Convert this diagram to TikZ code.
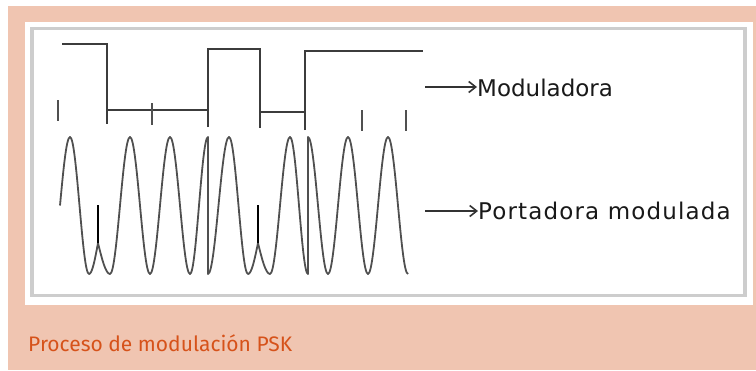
\documentclass[tikz,border=0pt]{standalone}
\usepackage{fontspec}
\usetikzlibrary{arrows.meta}
\newfontfamily\labelfont{DejaVu Sans}
\newfontfamily\capfont{Fira Sans}
\definecolor{salmon}{RGB}{240,197,177}
\definecolor{capcol}{RGB}{214,82,26}
\definecolor{wavecol}{RGB}{80,80,80}
\definecolor{sqcol}{RGB}{60,60,60}
\definecolor{framecol}{RGB}{205,205,205}
\tikzset{
  wave/.style={draw=wavecol, line width=1.8pt, line join=round},
  sqwave/.style={draw=sqcol, line width=2.2pt, line join=miter},
  tickline/.style={draw=wavecol, line width=2pt},
  blackmark/.style={draw=black, line width=2.2pt},
  lbl/.style={font=\labelfont\fontsize{23}{26}\selectfont, text=black!90, inner sep=0pt, anchor=base west},
  pointer/.style={draw=black!80, line width=1.6pt, -{Straight Barb[length=7pt,width=11pt,line width=1.6pt]}}
}
\begin{document}
\begin{tikzpicture}[x=1pt,y=-1pt]
\useasboundingbox (0,0) rectangle (756,370);
\fill[white] (0,0) rectangle (756,370);
\fill[salmon] (8,6) rectangle (756,370);
\fill[white] (25,22) rectangle (753,305);
\draw[framecol, line width=3.5pt] (32,28.5) rectangle (745,295.5);
% modulating square wave
\draw[sqwave] (62,44) -- (107,44) -- (107,124);
\draw[sqwave] (107,110) -- (208,110);
\draw[sqwave] (208,127) -- (208,49) -- (260,49) -- (260,128);
\draw[sqwave] (260,112) -- (305,112);
\draw[sqwave] (305,130) -- (305,51) -- (423,51);
% ticks
\draw[tickline] (58,100) -- (58,121);
\draw[tickline] (152,103) -- (152,125);
\draw[tickline] (362,110) -- (362,131);
\draw[tickline] (406,110) -- (406,131);
% modulated carrier
\draw[wave] (60,205.5) sin (70,137) cos (79.5,205.5) sin (89,274) cos (98,243)
  sin (110,274) cos (120,205.5) sin (130,137) cos (140,205.5) sin (150,274)
  cos (160,205.5) sin (170,137) cos (180,205.5) sin (190,274) cos (199,205.5) sin (208,137)
  -- (208,274) cos (218.5,205.5) sin (229,137) cos (238.5,205.5) sin (248,274) cos (258,243)
  sin (270,274) cos (280,205.5) sin (290,137) cos (299,205.5) sin (308,274)
  -- (308,137) cos (318,205.5) sin (328,274) cos (338,205.5) sin (348,137)
  cos (358,205.5) sin (368,274) cos (378,205.5) sin (388,137) cos (398,205.5) sin (408,274);
\draw[blackmark] (98,205) -- (98,243);
\draw[blackmark] (258,205) -- (258,243);
% labels
\node[lbl] (mod) at (477,96) {Moduladora};
\node[lbl] (por) at (478,219) {\addfontfeature{LetterSpace=5}Portadora modulada};
\coordinate (modstart) at (425,87);
\coordinate (porstart) at (425,211);
\draw[pointer] (modstart) -- (mod.west |- modstart);
\draw[pointer] (porstart) -- (por.west |- porstart);
% caption
\node[font=\capfont\fontsize{21}{24}\selectfont, text=capcol, inner sep=0pt, anchor=base west] (cap) at (28,351.5) {Proceso de modulación PSK};
\end{tikzpicture}
\end{document}
